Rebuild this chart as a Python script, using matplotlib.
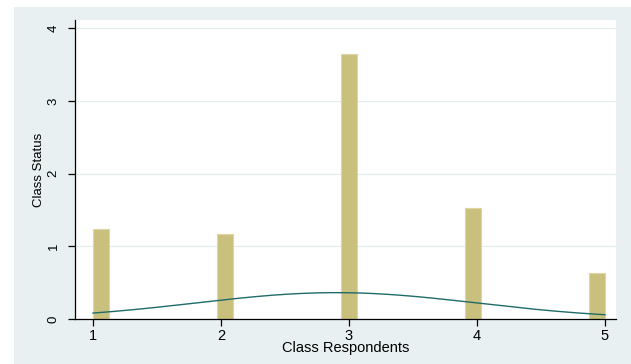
import numpy as np
import matplotlib
matplotlib.use("Agg")
import matplotlib.pyplot as plt
from matplotlib.patches import Rectangle

# Histogram of class respondents (density scale) with a normal density overlay
responses = [1, 2, 3, 4, 5]
density = [1.24, 1.17, 3.65, 1.53, 0.63]
n_bins = 33
x_range = (1, 5)
norm_mean = 2.9
norm_sd = 1.1

y_ticks = [0, 1, 2, 3, 4]
x_ticks = [1, 2, 3, 4, 5]

bg = "#E8F0F2"
bar_face = "#C9C07E"
bar_edge = "#DCD6A4"
curve_col = "#1F6B68"

plt.rcParams["font.family"] = ["Liberation Sans", "DejaVu Sans"]

W, H = 631, 364
fig = plt.figure(figsize=(W / 100, H / 100), dpi=100)
fig.patch.set_facecolor("white")
fig.patches.append(Rectangle((14 / W, 0), 1 - 14 / W, 1 - 7 / H,
                             transform=fig.transFigure, facecolor=bg,
                             edgecolor="none", zorder=-10))

ax = fig.add_axes([75 / W, 45 / H, (616 - 75) / W, (319 - 20) / H])
ax.set_zorder(1)
ax.set_facecolor("white")

# bars placed in their histogram bins
width = (x_range[1] - x_range[0]) / n_bins
for v, d in zip(responses, density):
    k = min(int(np.floor((v - x_range[0]) / width + 1e-9)), n_bins - 1)
    left = x_range[0] + k * width
    ax.bar(left, d, width=width, align="edge", color=bar_face,
           edgecolor=bar_edge, linewidth=0.8, zorder=2)

# normal density curve
xs = np.linspace(x_range[0], x_range[1], 300)
ys = np.exp(-0.5 * ((xs - norm_mean) / norm_sd) ** 2) / (norm_sd * np.sqrt(2 * np.pi))
ax.plot(xs, ys, color=curve_col, linewidth=1.0, zorder=3)

ax.set_xlim(0.859, 5.086)
ax.set_ylim(0, 4.113)
ax.set_xticks(x_ticks)
ax.set_yticks(y_ticks)
for t in y_ticks[1:]:
    ax.axhline(t, color="#E4EDEF", linewidth=0.9, zorder=1)

for s in ["top", "right"]:
    ax.spines[s].set_visible(False)
for s in ["left", "bottom"]:
    ax.spines[s].set_color("black")
    ax.spines[s].set_linewidth(0.9)

ax.tick_params(axis="both", direction="out", length=5, width=0.9,
               color="black")
ax.tick_params(axis="x", pad=2, labelsize=10.5)
ax.tick_params(axis="y", pad=6, labelsize=9.5)
for lab in ax.get_yticklabels():
    lab.set_rotation(90)
    lab.set_va("center")

ax.set_xlabel("Class Respondents", fontsize=10.5, labelpad=-1)
ax.set_ylabel("Class Status", fontsize=9.5, labelpad=2)

fig.savefig("out.png", dpi=100, facecolor=fig.get_facecolor())
